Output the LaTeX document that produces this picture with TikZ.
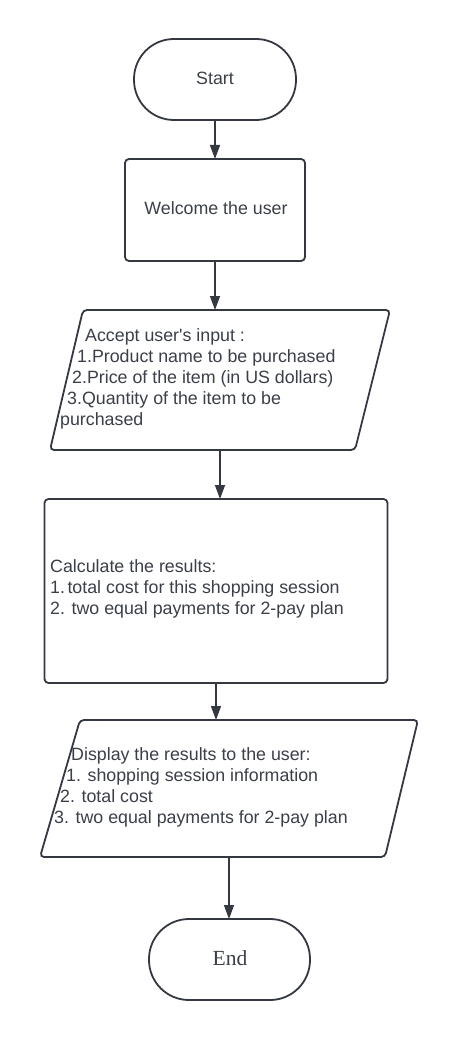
\documentclass[tikz,border=0pt]{standalone}
\usepackage{fontspec}
\setmainfont{Liberation Sans}
\newfontfamily\endfont{Liberation Serif}
\usetikzlibrary{arrows.meta}
\definecolor{ink}{HTML}{343841}
\definecolor{txt}{HTML}{3B3F48}
\tikzset{
  box/.style={draw=ink, line width=1.8pt, rounded corners=4pt, inner sep=0pt, outer sep=0pt},
  term/.style={draw=ink, line width=1.8pt, rounded corners=40pt, inner sep=0pt, outer sep=0pt, text=txt},
  frame/.style={inner sep=0pt, outer sep=0pt},
  lbl/.style={anchor=base west, inner sep=0pt, text=txt, font=\fontsize{17.8}{21}\selectfont},
  clbl/.style={inner sep=0pt, text=txt, font=\fontsize{17.8}{21}\selectfont},
  arr/.style={draw=ink, line width=1.4pt, -{Triangle[length=14pt,width=10pt]}}
}
\begin{document}
\begin{tikzpicture}[x=1pt,y=-1pt]
\useasboundingbox[fill=white] (0,0) rectangle (460,1040);

% Start
\node[term, minimum width=162pt, minimum height=81pt] (start) at (215,79.5) {};
\node[clbl] (starttxt) at (215,78) {Start};

% Welcome
\node[box, minimum width=180pt, minimum height=102pt] (welcome) at (215,210) {};
\node[clbl] (welcometxt) at (216,208) {Welcome the user};

% Input parallelogram
\node[frame, minimum width=340pt, minimum height=140pt] (p1) at (220,380) {};
\draw[box] ([xshift=33pt]p1.north west) -- (p1.north east)
  -- ([xshift=-35pt]p1.south east) -- (p1.south west) -- cycle;
\node[lbl] (p1a) at (85,341) {Accept user\textquotesingle s input :};
\node[lbl] (p1b) at (77,362) {1.Product name to be purchased};
\node[lbl] (p1c) at (72,383) {2.Price of the item (in US dollars)};
\node[lbl] (p1d) at (67,404) {3.Quantity of the item to be};
\node[lbl] (p1e) at (60,425) {purchased};

% Calculate box
\node[box, minimum width=343pt, minimum height=184pt] (r2) at (216,591) {};
\node[lbl] (r2a) at (50,572) {Calculate the results:};
\node[lbl] (r2b) at (50,593) {1.\hspace{2.5pt}total cost for this shopping session};
\node[lbl] (r2c) at (50,614) {2. two equal payments for 2-pay plan};

% Display parallelogram
\node[frame, minimum width=378pt, minimum height=137pt] (p2) at (229,788.5) {};
\draw[box] ([xshift=40pt]p2.north west) -- (p2.north east)
  -- ([xshift=-33pt]p2.south east) -- (p2.south west) -- cycle;
\node[lbl] (p2a) at (71,760) {Display the results to the user:};
\node[lbl] (p2b) at (66,781) {1. shopping session information};
\node[lbl] (p2c) at (60,802) {2. total cost};
\node[lbl] (p2d) at (54,823) {3. two equal payments for 2-pay plan};

% End
\node[term, minimum width=161pt, minimum height=81pt] (end) at (229.5,959.5) {};
\node[inner sep=0pt, text=txt, font=\endfont\fontsize{21.5}{24}\selectfont] (endtxt) at (230,958) {End};

% Connectors
\draw[arr] (start.south) -- (welcome.north);
\draw[arr] (welcome.south) -- (welcome.south |- p1.north);
\draw[arr] (p1.south) -- (p1.south |- r2.north);
\draw[arr] (r2.south) -- (r2.south |- p2.north);
\draw[arr] (p2.south) -- (p2.south |- end.north);
\end{tikzpicture}
\end{document}
